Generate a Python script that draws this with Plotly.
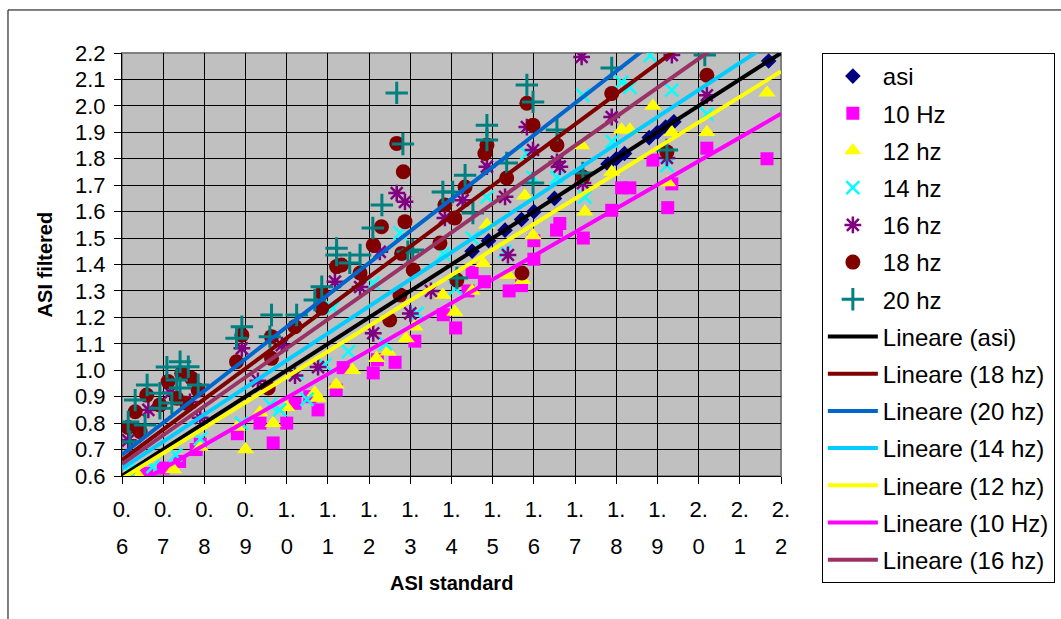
import plotly.graph_objects as go

# ---------------- data ----------------
asi_x = [1.45, 1.49, 1.53, 1.57, 1.60, 1.65, 1.78, 1.80, 1.82, 1.88, 1.90, 1.92, 1.94, 2.17]
asi_y = [1.45, 1.49, 1.53, 1.57, 1.60, 1.65, 1.78, 1.80, 1.82, 1.88, 1.90, 1.92, 1.94, 2.17]

hz10_x = [0.64, 0.66, 0.70, 0.74, 0.78, 0.79, 0.88, 0.935, 0.967, 1.00, 1.02, 1.056, 1.076,
          1.12, 1.137, 1.21, 1.22, 1.263, 1.311, 1.38, 1.41, 1.44, 1.45, 1.48, 1.54, 1.57,
          1.60, 1.60, 1.655, 1.663, 1.72, 1.789, 1.813, 1.833, 1.889, 1.925, 1.935, 2.02, 2.166]
hz10_y = [0.60, 0.61, 0.63, 0.655, 0.70, 0.72, 0.76, 0.80, 0.725, 0.80, 0.875, 0.90, 0.85,
          0.925, 1.01, 0.99, 1.04, 1.03, 1.11, 1.21, 1.16, 1.30, 1.37, 1.335, 1.30, 1.32,
          1.42, 1.49, 1.53, 1.555, 1.50, 1.605, 1.69, 1.69, 1.795, 1.615, 1.705, 1.84, 1.80]

hz12_x = [0.61, 0.64, 0.725, 0.79, 0.88, 0.90, 0.935, 0.967, 1.00, 1.068, 1.076, 1.12, 1.16,
          1.218, 1.246, 1.29, 1.311, 1.379, 1.408, 1.45, 1.477, 1.486, 1.537, 1.573, 1.578,
          1.598, 1.716, 1.724, 1.789, 1.813, 1.833, 1.889, 1.925, 1.935, 2.02, 2.166]
hz12_y = [0.595, 0.60, 0.625, 0.71, 0.785, 0.70, 0.84, 0.80, 0.86, 0.915, 0.895, 0.945, 1.00,
          1.045, 1.07, 1.12, 1.165, 1.285, 1.22, 1.30, 1.405, 1.55, 1.36, 1.34, 1.66,
          1.51, 1.85, 1.60, 1.75, 1.91, 1.91, 2.00, 1.71, 1.90, 1.90, 2.05]

hz14_x = [0.615, 0.675, 0.73, 0.79, 0.89, 0.96, 0.983, 1.025, 1.049, 1.093, 1.112, 1.15, 1.21,
          1.24, 1.275, 1.316, 1.38, 1.41, 1.45, 1.486, 1.53, 1.583, 1.598, 1.656, 1.719,
          1.724, 1.79, 1.813, 1.833, 1.882, 1.923, 1.935, 2.02]
hz14_y = [0.62, 0.635, 0.68, 0.74, 0.80, 0.87, 0.85, 0.99, 0.89, 1.02, 1.235, 1.07, 1.33,
          1.10, 1.52, 1.215, 1.44, 1.31, 1.50, 1.655, 1.45, 1.82, 1.73, 1.73, 2.04,
          1.655, 1.865, 2.09, 2.07, 2.19, 1.775, 2.06, 1.97]

hz16_x = [0.615, 0.664, 0.717, 0.765, 0.79, 0.891, 0.93, 0.988, 1.02, 1.076, 1.117, 1.178,
          1.21, 1.226, 1.267, 1.287, 1.30, 1.35, 1.384, 1.427, 1.486, 1.53, 1.537, 1.583,
          1.598, 1.656, 1.663, 1.716, 1.719, 1.789, 1.923, 1.935, 2.02]
hz16_y = [0.735, 0.85, 0.915, 0.88, 0.82, 1.083, 0.96, 1.095, 0.98, 1.012, 1.335, 1.315,
          1.14, 1.448, 1.67, 1.637, 1.215, 1.30, 1.576, 1.643, 1.77, 1.656, 1.436, 1.92,
          1.833, 1.788, 1.77, 2.185, 1.708, 1.958, 1.803, 2.192, 2.04]

hz18_x = [0.615, 0.632, 0.644, 0.66, 0.692, 0.712, 0.733, 0.745, 0.757, 0.769, 0.785, 0.878,
          0.891, 0.955, 0.963, 0.963, 1.02, 1.085, 1.085, 1.121, 1.133, 1.178, 1.21, 1.23,
          1.25, 1.267, 1.275, 1.279, 1.283, 1.287, 1.307, 1.372, 1.384, 1.408, 1.413, 1.433,
          1.481, 1.486, 1.534, 1.571, 1.583, 1.598, 1.656, 1.719, 1.789, 1.923, 2.02]
hz18_y = [0.784, 0.843, 0.768, 0.906, 0.869, 0.957, 0.894, 0.988, 0.875, 0.97, 0.925, 1.032,
          1.133, 0.933, 1.127, 1.045, 1.165, 1.291, 1.235, 1.392, 1.398, 1.368, 1.474, 1.543,
          1.19, 1.858, 1.285, 1.442, 1.751, 1.562, 1.379, 1.481, 1.625, 1.576, 1.341, 1.693,
          1.82, 1.852, 1.727, 1.368, 2.01, 1.927, 1.852, 1.731, 2.047, 1.826, 2.116]

hz20_x = [0.615, 0.619, 0.632, 0.656, 0.661, 0.692, 0.692, 0.709, 0.721, 0.733, 0.741, 0.741,
          0.761, 0.785, 0.878, 0.891, 0.959, 0.963, 1.024, 1.068, 1.085, 1.121, 1.121, 1.153,
          1.178, 1.209, 1.231, 1.267, 1.282, 1.294, 1.306, 1.379, 1.403, 1.413, 1.433, 1.452,
          1.486, 1.486, 1.534, 1.583, 1.598, 1.598, 1.656, 1.719, 1.789, 1.923, 2.015]
hz20_y = [0.804, 0.73, 0.887, 0.793, 0.944, 0.913, 0.856, 1.012, 0.876, 0.963, 1.032, 0.933,
          1.013, 0.944, 1.121, 1.165, 1.127, 1.209, 1.209, 1.266, 1.316, 1.461, 1.436, 1.406,
          1.436, 1.538, 1.625, 2.049, 1.856, 1.448, 1.455, 1.674, 1.674, 1.349, 1.738, 1.595,
          1.927, 1.871, 1.784, 2.079, 2.015, 1.708, 1.909, 1.746, 2.143, 1.833, 2.192]

# linear trendlines (slope, intercept), in legend order
trend_names = ["Lineare (asi)", "Lineare (18 hz)", "Lineare (20 hz)", "Lineare (14 hz)",
               "Lineare (12 hz)", "Lineare (10 Hz)", "Lineare (16 hz)"]
trend_slope = [1.000, 1.154, 1.209, 1.023, 0.9625, 0.895, 1.095]
trend_intercept = [0.000, -0.032, -0.045, 0.014, 0.0125, 0.001, -0.012]
trend_colors = ["#000000", "#800000", "#0066CC", "#00CCFF", "#FFFF00", "#FF00FF", "#993366"]
trend_x_span = [0.6, 2.2]

x_ticks = [0.6, 0.7, 0.8, 0.9, 1.0, 1.1, 1.2, 1.3, 1.4, 1.5, 1.6, 1.7, 1.8, 1.9, 2.0, 2.1, 2.2]
x_tick_line1 = ["0.", "0.", "0.", "0.", "1.", "1.", "1.", "1.", "1.", "1.", "1.", "1.", "1.",
                "1.", "2.", "2.", "2."]
x_tick_line2 = ["6", "7", "8", "9", "0", "1", "2", "3", "4", "5", "6", "7", "8", "9", "0",
                "1", "2"]
y_ticks = [0.6, 0.7, 0.8, 0.9, 1.0, 1.1, 1.2, 1.3, 1.4, 1.5, 1.6, 1.7, 1.8, 1.9, 2.0, 2.1, 2.2]
y_tick_text = ["0.6", "0.7", "0.8", "0.9", "1.0", "1.1", "1.2", "1.3", "1.4", "1.5", "1.6",
               "1.7", "1.8", "1.9", "2.0", "2.1", "2.2"]

FONT = "Arial, Liberation Sans, sans-serif"

scatter_series = [
    ("asi", asi_x, asi_y, dict(symbol="diamond", color="#000080", size=12)),
    ("10 Hz", hz10_x, hz10_y, dict(symbol="square", color="#FF00FF", size=13)),
    ("12 hz", hz12_x, hz12_y, dict(symbol="triangle-up", color="#FFFF00", size=15)),
    ("14 hz", hz14_x, hz14_y, dict(symbol="x-thin", color="#00FFFF", size=13,
                                   line=dict(color="#00FFFF", width=2.5))),
    ("16 hz", hz16_x, hz16_y, dict(symbol="asterisk", color="#800080", size=14,
                                   line=dict(color="#800080", width=2.5))),
    ("18 hz", hz18_x, hz18_y, dict(symbol="circle", color="#800000", size=15)),
    ("20 hz", hz20_x, hz20_y, dict(symbol="cross-thin", color="#008080", size=16,
                                   line=dict(color="#008080", width=3))),
]

fig = go.Figure()
for i, (name, xs, ys, mk) in enumerate(scatter_series):
    fig.add_trace(go.Scatter(x=xs, y=ys, mode="markers", name=name, marker=mk,
                             legendgroup="g%d" % i))

for j, (nm, b, a, c) in enumerate(zip(trend_names, trend_slope, trend_intercept, trend_colors)):
    xs = trend_x_span
    ys = [a + b * v for v in xs]
    fig.add_trace(go.Scatter(x=xs, y=ys, mode="lines", name=nm,
                             line=dict(color=c, width=4), legendgroup="t%d" % j))

# invisible trace on the second x axis to carry the second line of tick labels
fig.add_trace(go.Scatter(x=[0.6, 2.2], y=[0.6, 0.6], xaxis="x2", mode="markers",
                         marker=dict(opacity=0), showlegend=False, hoverinfo="skip"))

fig.update_layout(
    width=1061, height=619,
    margin=dict(l=122, r=280, t=53, b=143, autoexpand=False),
    paper_bgcolor="white",
    plot_bgcolor="#C0C0C0",
    font=dict(family=FONT, size=22, color="black"),
    showlegend=True,
    legend=dict(x=1.062, y=1.0, xanchor="left", yanchor="top",
                bgcolor="white", bordercolor="black", borderwidth=1,
                font=dict(family=FONT, size=24, color="black"),
                tracegroupgap=3, itemwidth=50, maxheight=580),
    xaxis=dict(range=[0.6, 2.2], tickvals=x_ticks, ticktext=x_tick_line1,
               showgrid=True, gridcolor="black", gridwidth=1, zeroline=False,
               showline=True, linecolor="black", linewidth=1,
               ticks="outside", ticklen=7, tickcolor="black",
               ticklabelstandoff=7,
               tickfont=dict(family=FONT, size=22)),
    xaxis2=dict(range=[0.6, 2.2], overlaying="x", anchor="y", side="bottom",
                tickvals=x_ticks, ticktext=x_tick_line2, showgrid=False,
                zeroline=False, showline=False, ticks="", ticklabelstandoff=55,
                tickfont=dict(family=FONT, size=22)),
    yaxis=dict(range=[0.6, 2.2], tickvals=y_ticks, ticktext=y_tick_text,
               showgrid=True, gridcolor="black", gridwidth=1, zeroline=False,
               showline=True, linecolor="black", linewidth=1,
               ticks="outside", ticklen=7, tickcolor="black",
               ticklabelstandoff=4,
               tickfont=dict(family=FONT, size=22)),
    shapes=[
        dict(type="rect", xref="paper", yref="paper", x0=0, y0=0, x1=1, y1=1,
             line=dict(color="#808080", width=2), layer="below"),
        dict(type="rect", xref="paper", yref="paper", x0=-0.173, y0=-0.36, x1=1.45, y1=1.1017,
             line=dict(color="black", width=1)),
    ],
    annotations=[
        dict(text="<b>ASI standard</b>", xref="paper", yref="paper", x=0.5, y=-0.254,
             xanchor="center", yanchor="middle", showarrow=False,
             font=dict(family=FONT, size=20, color="black")),
        dict(text="<b>ASI filtered</b>", xref="paper", yref="paper", x=-0.117, y=0.5,
             xanchor="center", yanchor="middle", showarrow=False, textangle=-90,
             font=dict(family=FONT, size=20, color="black")),
    ],
)

fig.write_html("out.html")
